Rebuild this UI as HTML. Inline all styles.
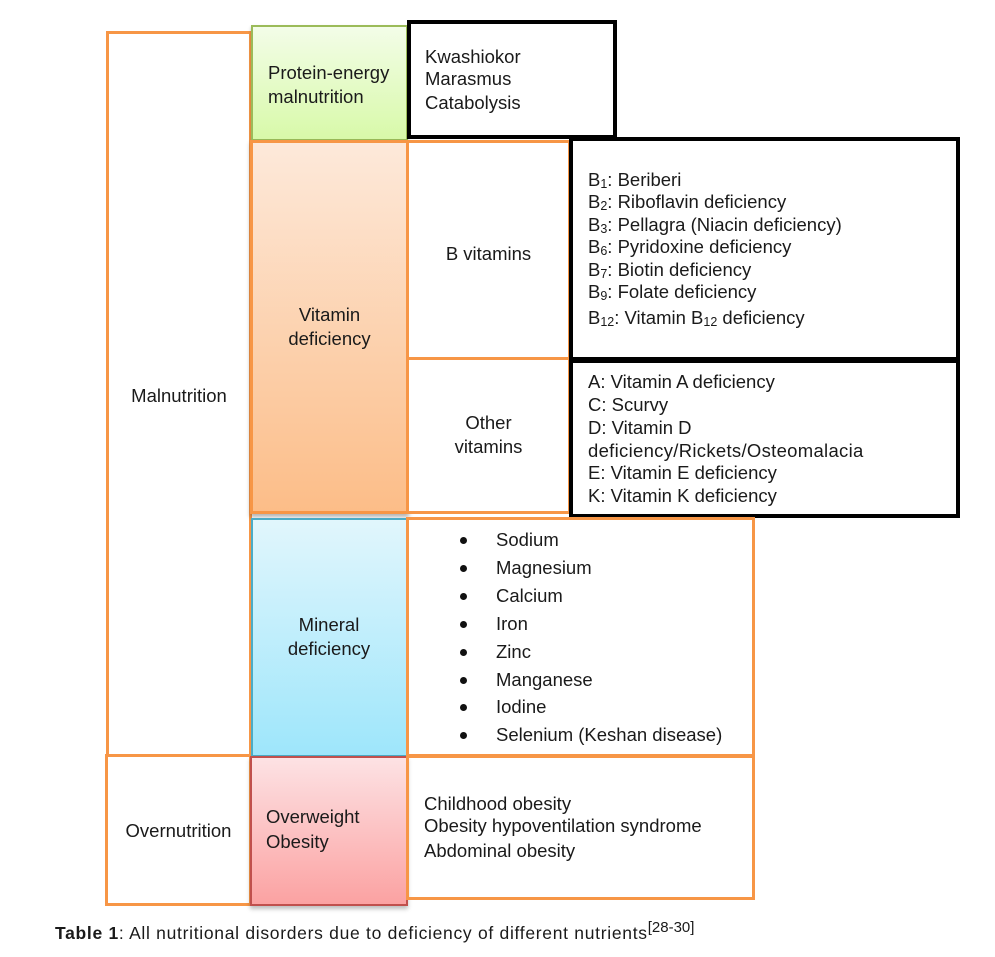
<!DOCTYPE html>
<html>
<head>
<meta charset="utf-8">
<style>
  html,body{margin:0;padding:0;background:#fff;}
  body{width:995px;height:957px;position:relative;overflow:hidden;
       font-family:"Liberation Sans",Arial,sans-serif;color:#1a1a1a;}
  .b{position:absolute;box-sizing:border-box;}
  .or{border:3px solid #f79646;}
  .bk{border:4px solid #000;}
  .t{position:absolute;font-size:18.5px;line-height:22px;white-space:nowrap;}
  .c{text-align:center;}
  sub{font-size:12.5px;vertical-align:-2px;line-height:0;}
  .dot{position:absolute;width:7px;height:7px;border-radius:50%;background:#111;}
</style>
</head>
<body>

<!-- Malnutrition / Overnutrition -->
<div class="b or" style="left:106px;top:31px;width:146px;height:726px;"></div>
<div class="b or" style="left:105px;top:754px;width:147px;height:152px;"></div>

<!-- Protein-energy -->
<div class="b" style="left:251px;top:25px;width:157px;height:116px;border:2px solid #9bbb59;background:linear-gradient(#f3fde8,#d8f9a9);box-shadow:0 2px 3px rgba(0,0,0,0.25);"></div>
<div class="b bk" style="left:407px;top:20px;width:210px;height:119px;background:#fff;"></div>

<!-- Vitamin -->
<div class="b or" style="left:250px;top:140px;width:159px;height:374px;background:linear-gradient(#fde9da,#fcbd88);box-shadow:0 3px 4px rgba(0,0,0,0.3);"></div>
<div class="b or" style="left:406px;top:140px;width:165px;height:220px;background:#fff;"></div>
<div class="b or" style="left:406px;top:357px;width:165px;height:157px;background:#fff;"></div>
<div class="b bk" style="left:569px;top:137px;width:391px;height:224px;background:#fff;"></div>
<div class="b bk" style="left:569px;top:359px;width:391px;height:159px;background:#fff;"></div>

<!-- Mineral -->
<div class="b" style="left:251px;top:518px;width:156px;height:239px;border-top:2px solid #4bacc6;border-left:2px solid #4bacc6;border-bottom:2px solid #4bacc6;background:linear-gradient(#e1f6fc,#9ee6fb);"></div>
<div class="b or" style="left:406px;top:517px;width:349px;height:240px;"></div>

<!-- Overweight -->
<div class="b" style="left:250px;top:756px;width:158px;height:150px;border:2px solid #c0504d;background:linear-gradient(#fde2e4,#fba2a2);box-shadow:0 3px 4px rgba(0,0,0,0.25);"></div>
<div class="b or" style="left:406px;top:755px;width:349px;height:145px;"></div>

<!-- Text: Malnutrition / Overnutrition -->
<div class="t c" style="left:106px;width:146px;top:385px;">Malnutrition</div>
<div class="t c" style="left:105px;width:147px;top:820px;">Overnutrition</div>

<!-- Protein text -->
<div class="t" style="left:268px;top:62px;">Protein-energy</div>
<div class="t" style="left:268px;top:86px;">malnutrition</div>
<div class="t" style="left:425px;top:46px;">Kwashiokor</div>
<div class="t" style="left:425px;top:68px;">Marasmus</div>
<div class="t" style="left:425px;top:92px;">Catabolysis</div>

<!-- Vitamin text -->
<div class="t c" style="left:250px;width:159px;top:304px;">Vitamin</div>
<div class="t c" style="left:250px;width:159px;top:328px;">deficiency</div>
<div class="t c" style="left:406px;width:165px;top:243px;">B vitamins</div>
<div class="t c" style="left:406px;width:165px;top:412px;">Other</div>
<div class="t c" style="left:406px;width:165px;top:436px;">vitamins</div>

<div class="t" style="left:588px;top:169px;">B<sub>1</sub>: Beriberi</div>
<div class="t" style="left:588px;top:191px;">B<sub>2</sub>: Riboflavin deficiency</div>
<div class="t" style="left:588px;top:214px;">B<sub>3</sub>: Pellagra (Niacin deficiency)</div>
<div class="t" style="left:588px;top:236px;">B<sub>6</sub>: Pyridoxine deficiency</div>
<div class="t" style="left:588px;top:259px;">B<sub>7</sub>: Biotin deficiency</div>
<div class="t" style="left:588px;top:281px;">B<sub>9</sub>: Folate deficiency</div>
<div class="t" style="left:588px;top:307px;">B<sub>12</sub>: Vitamin B<sub>12</sub> deficiency</div>

<div class="t" style="left:588px;top:371px;">A: Vitamin A deficiency</div>
<div class="t" style="left:588px;top:394px;">C: Scurvy</div>
<div class="t" style="left:588px;top:417px;">D: Vitamin D</div>
<div class="t" style="left:588px;top:440px;letter-spacing:0.3px;">deficiency/Rickets/Osteomalacia</div>
<div class="t" style="left:588px;top:462px;">E: Vitamin E deficiency</div>
<div class="t" style="left:588px;top:485px;">K: Vitamin K deficiency</div>

<!-- Mineral text -->
<div class="t c" style="left:251px;width:156px;top:614px;">Mineral</div>
<div class="t c" style="left:251px;width:156px;top:638px;">deficiency</div>

<div class="dot" style="left:460px;top:537px;"></div>
<div class="dot" style="left:460px;top:565px;"></div>
<div class="dot" style="left:460px;top:593px;"></div>
<div class="dot" style="left:460px;top:621px;"></div>
<div class="dot" style="left:460px;top:649px;"></div>
<div class="dot" style="left:460px;top:677px;"></div>
<div class="dot" style="left:460px;top:704px;"></div>
<div class="dot" style="left:460px;top:732px;"></div>
<div class="t" style="left:496px;top:529px;">Sodium</div>
<div class="t" style="left:496px;top:557px;">Magnesium</div>
<div class="t" style="left:496px;top:585px;">Calcium</div>
<div class="t" style="left:496px;top:613px;">Iron</div>
<div class="t" style="left:496px;top:641px;">Zinc</div>
<div class="t" style="left:496px;top:669px;">Manganese</div>
<div class="t" style="left:496px;top:696px;">Iodine</div>
<div class="t" style="left:496px;top:724px;">Selenium (Keshan disease)</div>

<!-- Overweight text -->
<div class="t" style="left:266px;top:806px;">Overweight</div>
<div class="t" style="left:266px;top:831px;">Obesity</div>
<div class="t" style="left:424px;top:793px;">Childhood obesity</div>
<div class="t" style="left:424px;top:815px;">Obesity hypoventilation syndrome</div>
<div class="t" style="left:424px;top:840px;">Abdominal obesity</div>

<!-- Caption -->
<div class="t" style="left:55px;top:922px;font-size:17.5px;letter-spacing:0.7px;"><b>Table 1</b>: All nutritional disorders due to deficiency of different nutrients<sup style="font-size:15px;vertical-align:7px;line-height:0;letter-spacing:0;">[28-30]</sup></div>

</body>
</html>
